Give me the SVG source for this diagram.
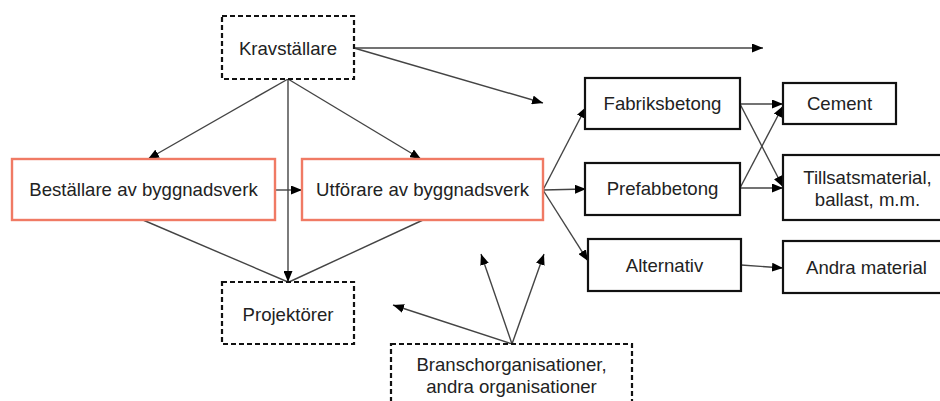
<svg xmlns="http://www.w3.org/2000/svg" width="940" height="401" viewBox="0 0 940 401">
<style>
.t{font-family:"Liberation Sans",Arial,sans-serif;font-size:18.6px;fill:#222;text-anchor:middle}
.box{fill:#fff;stroke:#111;stroke-width:2.2}
.dash{fill:#fff;stroke:#111;stroke-width:2.2;stroke-dasharray:5,3}
.main{fill:#fff;stroke:#f07a64;stroke-width:2.4}
.c{fill:none;stroke:#444;stroke-width:1.4}
.a{marker-end:url(#arr)}
</style>
<defs>
<marker id="arr" markerUnits="userSpaceOnUse" markerWidth="11" markerHeight="9" refX="11" refY="4.5" orient="auto">
<path d="M0,0 L11,4.5 L0,9 z" fill="#000"/>
</marker>
</defs>
<rect width="940" height="401" fill="#fff"/>
<g id="connectors">
<line class="c a" x1="288" y1="79" x2="148" y2="159"/>
<line class="c a" x1="288" y1="79" x2="421" y2="159"/>
<line class="c a" x1="288" y1="79" x2="288" y2="282"/>
<line class="c a" x1="275" y1="190" x2="302" y2="190"/>
<line class="c" x1="143" y1="220" x2="288" y2="282"/>
<line class="c" x1="423" y1="220" x2="289" y2="282"/>
<line class="c a" x1="354" y1="48" x2="763" y2="48"/>
<line class="c a" x1="354" y1="48" x2="543" y2="103"/>
<line class="c a" x1="543" y1="190" x2="586" y2="107"/>
<line class="c a" x1="543" y1="190" x2="586" y2="189"/>
<line class="c a" x1="543" y1="190" x2="588" y2="261"/>
<line class="c a" x1="740" y1="104" x2="783" y2="104"/>
<line class="c a" x1="740" y1="104" x2="783" y2="187"/>
<line class="c a" x1="740" y1="188" x2="783" y2="106"/>
<line class="c a" x1="740" y1="188" x2="783" y2="188"/>
<line class="c a" x1="741" y1="265" x2="783" y2="268"/>
<line class="c a" x1="512" y1="344" x2="393" y2="305"/>
<line class="c a" x1="512" y1="344" x2="481" y2="254"/>
<line class="c a" x1="512" y1="344" x2="544" y2="254"/>
</g>
<g id="kravstallare">
<rect class="dash" x="222" y="16" width="132" height="63"/>
<text class="t" x="288" y="54.5">Kravställare</text>
</g>
<g id="bestallare">
<rect class="main" x="12" y="159" width="263" height="61"/>
<text class="t" x="143.5" y="196">Beställare av byggnadsverk</text>
</g>
<g id="utforare">
<rect class="main" x="302" y="159" width="241" height="61"/>
<text class="t" x="422.5" y="196">Utförare av byggnadsverk</text>
</g>
<g id="projektorer">
<rect class="dash" x="222" y="282" width="132" height="62"/>
<text class="t" x="288" y="320.5">Projektörer</text>
</g>
<g id="fabriksbetong">
<rect class="box" x="585" y="78" width="155" height="51"/>
<text class="t" x="662.5" y="110">Fabriksbetong</text>
</g>
<g id="prefabbetong">
<rect class="box" x="585" y="163" width="155" height="52"/>
<text class="t" x="662.5" y="195">Prefabbetong</text>
</g>
<g id="alternativ">
<rect class="box" x="588" y="239" width="153" height="52"/>
<text class="t" x="664.5" y="272">Alternativ</text>
</g>
<g id="cement">
<rect class="box" x="783" y="83" width="113" height="41"/>
<text class="t" x="839.5" y="110">Cement</text>
</g>
<g id="tillsatsmaterial">
<rect class="box" x="783" y="155" width="170" height="65"/>
<text class="t" x="867.5" y="184">Tillsatsmaterial,</text>
<text class="t" x="867.5" y="206">ballast, m.m.</text>
</g>
<g id="andra-material">
<rect class="box" x="783" y="241" width="170" height="52"/>
<text class="t" x="866.5" y="274">Andra material</text>
</g>
<g id="branschorganisationer">
<rect class="dash" x="391" y="344" width="241" height="80"/>
<text class="t" x="511.5" y="371">Branschorganisationer,</text>
<text class="t" x="511.5" y="393">andra organisationer</text>
</g>
</svg>
